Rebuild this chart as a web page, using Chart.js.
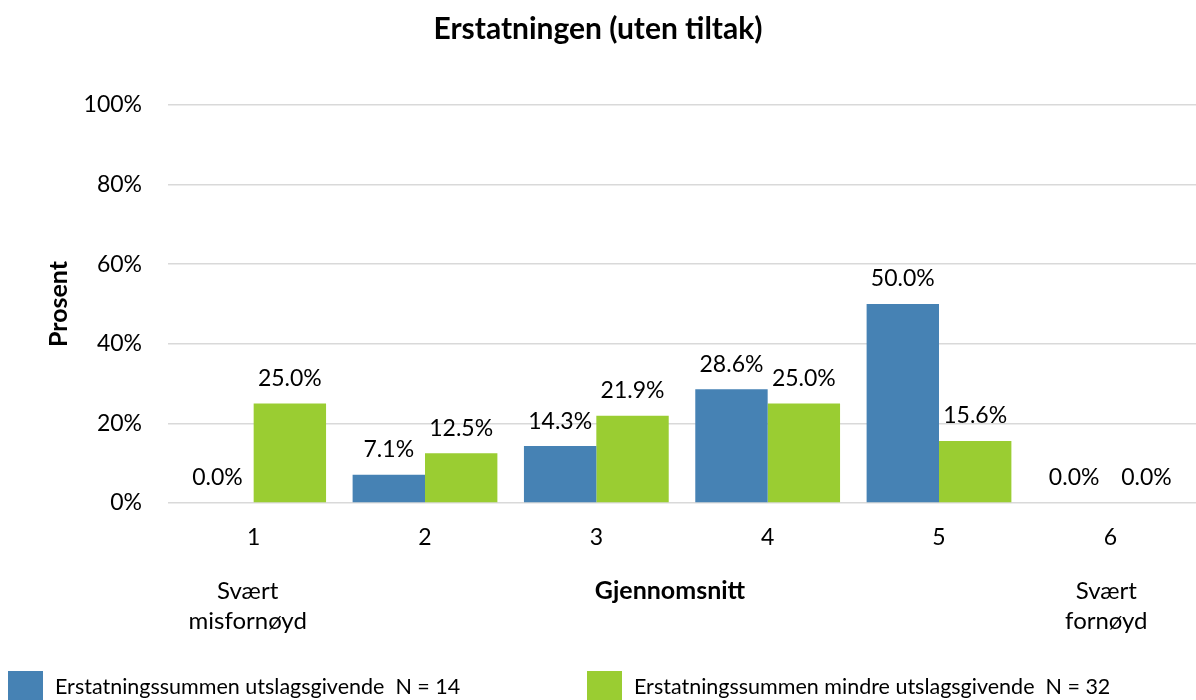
<!DOCTYPE html>
<html>
<head>
<meta charset="utf-8">
<script src="https://cdn.jsdelivr.net/npm/chart.js@4"></script>
<style>
    html, body { margin: 0; padding: 0; background: #fff; }
    canvas { display: block; }
</style>
</head>
<body>
<canvas id="survey-chart" width="1196" height="700"></canvas>
<script>
// ----- D A T A
const CATEGORIES = ["1", "2", "3", "4", "5", "6"];
const SERIES_NAMES = [
    "Erstatningssummen utslagsgivende  N = 14",
    "Erstatningssummen mindre utslagsgivende  N = 32"
];
const VALUES_MAJOR = [0.0, 7.1, 14.3, 28.6, 50.0, 0.0];
const VALUES_MINOR = [25.0, 12.5, 21.9, 25.0, 15.6, 0.0];
const Y_TICKS = [0, 20, 40, 60, 80, 100];
const SCALE_LABELS = { first: ["Svært", "misfornøyd"], last: ["Svært", "fornøyd"] };

// ----- S E T T I N G S
const
    FONT_FAMILY = "Lato",
    COLOR_BLUE = "#4682b4",
    COLOR_GREEN = "#9acd32",
    TEXT_COLOR = "#000";

/**
 * Draws the value labels above the bars, the scale end captions,
 * the x axis caption and the legend row at the bottom.
 */
const annotationsPlugin = {
    id: "annotations",
    afterDatasetsDraw(chart) {
        const ctx = chart.ctx;
        ctx.save();
        ctx.fillStyle = TEXT_COLOR;
        ctx.textAlign = "center";
        ctx.textBaseline = "middle";

        // value labels
        ctx.font = `23px ${FONT_FAMILY}`;
        chart.data.datasets.forEach((ds, di) => {
            chart.getDatasetMeta(di).data.forEach((bar, i) => {
                ctx.fillText(ds.data[i].toFixed(1) + "%", bar.x, bar.y - 25);
            });
        });

        // scale end captions
        ctx.font = `24px ${FONT_FAMILY}`;
        const x = chart.scales.x;
        const firstX = x.getPixelForValue(0) - 6;
        const lastX = x.getPixelForValue(CATEGORIES.length - 1) - 4;
        SCALE_LABELS.first.forEach((t, i) => ctx.fillText(t, firstX, 591 + i * 30));
        SCALE_LABELS.last.forEach((t, i) => ctx.fillText(t, lastX, 591 + i * 30));

        ctx.font = `bold 25px ${FONT_FAMILY}`;
        ctx.fillText("Gjennomsnitt", 670, 591);

        // legend
        ctx.font = `21.5px ${FONT_FAMILY}`;
        ctx.textAlign = "left";
        const legendX = [8, 587];
        chart.data.datasets.forEach((ds, di) => {
            ctx.fillStyle = ds.backgroundColor;
            ctx.fillRect(legendX[di], 671, 35, 29);
            ctx.fillStyle = TEXT_COLOR;
            ctx.fillText(ds.label, legendX[di] + 47, 687);
        });
        ctx.restore();
    }
};

const config = {
    type: "bar",
    data: {
        labels: CATEGORIES,
        datasets: [
            {
                label: SERIES_NAMES[0],
                data: VALUES_MAJOR,
                backgroundColor: COLOR_BLUE,
                borderWidth: 0,
            },
            {
                label: SERIES_NAMES[1],
                data: VALUES_MINOR,
                backgroundColor: COLOR_GREEN,
                borderWidth: 0,
            },
        ],
    },
    options: {
        responsive: false,
        animation: false,
        categoryPercentage: 0.845,
        barPercentage: 1.0,
        layout: { padding: 0 },
        plugins: {
            legend: { display: false },
            tooltip: { enabled: false },
            title: {
                display: true,
                text: "Erstatningen (uten tiltak)",
                color: TEXT_COLOR,
                font: { family: FONT_FAMILY, size: 30, weight: "bold" },
                padding: { top: 11, bottom: 58 },
            },
        },
        scales: {
            x: {
                grid: { display: false, drawTicks: false },
                border: { display: false },
                ticks: {
                    color: TEXT_COLOR,
                    padding: 21,
                    font: { family: FONT_FAMILY, size: 23 },
                },
                afterFit: (scale) => { scale.height = 197; },
            },
            y: {
                min: 0,
                max: 100,
                afterBuildTicks: (scale) => {
                    scale.ticks = Y_TICKS.map(v => ({ value: v }));
                },
                grid: { color: "#d9d9d9", lineWidth: 1.5, drawTicks: false },
                border: { display: false },
                ticks: {
                    color: TEXT_COLOR,
                    padding: 26,
                    font: { family: FONT_FAMILY, size: 23 },
                    callback: (v) => v + "%",
                },
                title: {
                    display: true,
                    text: "Prosent",
                    color: TEXT_COLOR,
                    font: { family: FONT_FAMILY, size: 25, weight: "bold" },
                    padding: { top: 44, bottom: 0 },
                },
                afterFit: (scale) => { scale.width = 168; },
            },
        },
    },
    plugins: [annotationsPlugin],
};

window.surveyChart = new Chart(document.getElementById("survey-chart"), config);
</script>
</body>
</html>
